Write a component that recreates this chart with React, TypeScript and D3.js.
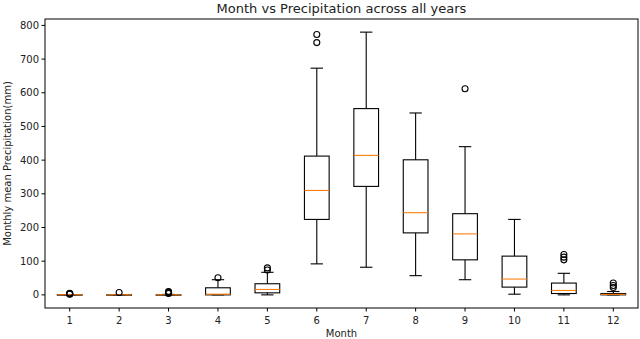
import React from 'react';
import * as d3 from 'd3';

// box statistics per month (mm)
const months = [1, 2, 3, 4, 5, 6, 7, 8, 9, 10, 11, 12];
const whiskerLow = [0, 0, 0, 0, 0, 92, 82, 57, 45, 2, 0, 0];
const q1 = [0, 0, 0, 0, 6, 224, 322, 184, 104, 23, 4, 0];
const medians = [0.3, 0.3, 0.3, 2, 16, 310, 414, 244, 181, 47, 13, 1.5];
const q3 = [0.6, 0.6, 0.6, 21, 33, 412, 553, 401, 241, 115, 35, 4];
const whiskerHigh = [1, 1, 1.5, 45, 67, 673, 780, 540, 440, 224, 64, 10];
const outliers = [
  [2, 3, 4, 5],
  [7],
  [4, 6, 8, 10],
  [51],
  [74, 80],
  [749, 773],
  [],
  [],
  [612],
  [],
  [104, 112, 120],
  [22, 28, 35],
];
const yTicks = [0, 100, 200, 300, 400, 500, 600, 700, 800];

const W = 640;
const H = 339;
const margin = { top: 19, right: 2, bottom: 31, left: 45 };

const App = () => {
  const x = d3.scaleLinear().domain([0.5, 12.5]).range([margin.left, W - margin.right]);
  const y = d3.scaleLinear().domain([-39, 819]).range([H - margin.bottom, margin.top]);
  const boxW = (x(1.25) - x(0.75));
  const capW = boxW / 2;
  const font = 'DejaVu Sans, sans-serif';
  const ink = '#000';

  return (
    <div style={{ position: 'absolute', left: 0, top: 0 }}>
      <svg width={W} height={H} style={{ display: 'block', background: '#fff' }}>
        <text x={(x(0.5) + x(12.5)) / 2} y={13} textAnchor="middle" fontFamily={font} fontSize={13} fill="#222">
          Month vs Precipitation across all years
        </text>

        {months.map((m, i) => {
          const cx = x(m);
          return (
            <g key={m} stroke={ink} strokeWidth={1.1} fill="none">
              <rect x={cx - boxW / 2} y={y(q3[i])} width={boxW} height={Math.max(y(q1[i]) - y(q3[i]), 0.5)} />
              <line x1={cx} x2={cx} y1={y(q1[i])} y2={y(whiskerLow[i])} />
              <line x1={cx} x2={cx} y1={y(q3[i])} y2={y(whiskerHigh[i])} />
              <line x1={cx - capW / 2} x2={cx + capW / 2} y1={y(whiskerLow[i])} y2={y(whiskerLow[i])} />
              <line x1={cx - capW / 2} x2={cx + capW / 2} y1={y(whiskerHigh[i])} y2={y(whiskerHigh[i])} />
              <line x1={cx - boxW / 2} x2={cx + boxW / 2} y1={y(medians[i])} y2={y(medians[i])} stroke="#ff7f0e" />
              {outliers[i].map((v, j) => (
                <circle key={j} cx={cx} cy={y(v)} r={3} />
              ))}
            </g>
          );
        })}

        {/* frame */}
        <rect x={x(0.5)} y={y(819)} width={x(12.5) - x(0.5)} height={y(-39) - y(819)} fill="none" stroke={ink} strokeWidth={1} />

        {/* y axis */}
        {yTicks.map((t) => (
          <g key={t}>
            <line x1={x(0.5) - 3.5} x2={x(0.5)} y1={y(t)} y2={y(t)} stroke={ink} />
            <text x={x(0.5) - 6} y={y(t) + 3.5} textAnchor="end" fontFamily={font} fontSize={10} fill="#222">
              {t}
            </text>
          </g>
        ))}

        {/* x axis */}
        {months.map((m) => (
          <g key={m}>
            <line x1={x(m)} x2={x(m)} y1={y(-39)} y2={y(-39) + 3.5} stroke={ink} />
            <text x={x(m)} y={y(-39) + 16} textAnchor="middle" fontFamily={font} fontSize={10} fill="#222">
              {m}
            </text>
          </g>
        ))}

        <text x={(x(0.5) + x(12.5)) / 2} y={337} textAnchor="middle" fontFamily={font} fontSize={10} fill="#222">
          Month
        </text>
        <text
          transform={`translate(11,${(y(-39) + y(819)) / 2}) rotate(-90)`}
          textAnchor="middle"
          fontFamily={font}
          fontSize={10}
          fill="#222"
        >
          Monthly mean Precipitation(mm)
        </text>
      </svg>
    </div>
  );
};

export default App;
